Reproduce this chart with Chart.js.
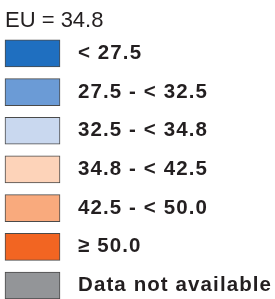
<!DOCTYPE html>
<html>
<head>
<meta charset="utf-8">
<script src="https://cdn.jsdelivr.net/npm/chart.js@4/dist/chart.umd.min.js"></script>
<style>
    html, body { margin: 0; padding: 0; background: #ffffff; overflow: hidden; }
    #legendChart { display: block; }
</style>
</head>
<body>
<canvas id="legendChart" width="275" height="299"></canvas>
<script>
// ==========================================
// ЛЕГЕНДА КАРТЫ (классы значений)
// ==========================================

const euAverage = 34.8;

const classLabels = [
    '< 27.5',
    '27.5 - < 32.5',
    '32.5 - < 34.8',
    '34.8 - < 42.5',
    '42.5 - < 50.0',
    '≥ 50.0',
    'Data not available'
];

// each swatch spans the full (hidden) x range
const swatchSpans = [[0, 1], [0, 1], [0, 1], [0, 1], [0, 1], [0, 1], [0, 1]];

const classColors = [
    '#1f6fc0',
    '#6b9bd6',
    '#c9d8ef',
    '#fdd3b9',
    '#f9aa7d',
    '#f26522',
    '#939598'
];

const textColor = '#231f20';

// the bold labels in the original are slightly tracked out
const canSpace = 'letterSpacing' in CanvasRenderingContext2D.prototype;
const labelSize = canSpace ? 20.5 : 22;

const labelSpacing = {
    id: 'labelSpacing',
    beforeDraw(chart) {
        if (canSpace) chart.ctx.letterSpacing = '0px';
    },
    afterDatasetsDraw(chart) {
        if (canSpace) chart.ctx.letterSpacing = '1.1px';
    }
};

const ctx = document.getElementById('legendChart');

new Chart(ctx, {
    type: 'bar',
    data: {
        labels: classLabels,
        datasets: [{
            data: swatchSpans,
            backgroundColor: classColors,
            borderColor: '#4a4a4a',
            borderWidth: 1,
            borderSkipped: false,
            barThickness: 27,
            clip: false
        }]
    },
    options: {
        indexAxis: 'y',
        responsive: false,
        animation: false,
        layout: {
            padding: { left: 5, right: 0, top: 0, bottom: 13.5 }
        },
        plugins: {
            legend: { display: false },
            tooltip: { enabled: false },
            title: {
                display: true,
                text: 'EU = ' + euAverage.toFixed(1),
                align: 'start',
                color: textColor,
                font: { family: 'Liberation Sans, Arial, sans-serif', size: 22, weight: 'normal' },
                padding: { top: 8, bottom: 19 }
            }
        },
        scales: {
            x: {
                display: false,
                min: 0,
                max: 1
            },
            y: {
                position: 'right',
                offset: false,
                grid: { display: false, drawTicks: false },
                border: { display: false },
                ticks: {
                    z: 1,
                    autoSkip: false,
                    padding: 18,
                    color: textColor,
                    font: { family: 'Liberation Sans, Arial, sans-serif', size: labelSize, weight: 'bold' }
                },
                afterFit: (axis) => {
                    axis.width = 215;
                    axis.paddingTop = 0;
                    axis.paddingBottom = 0;
                }
            }
        }
    },
    plugins: [labelSpacing]
});
</script>
</body>
</html>
